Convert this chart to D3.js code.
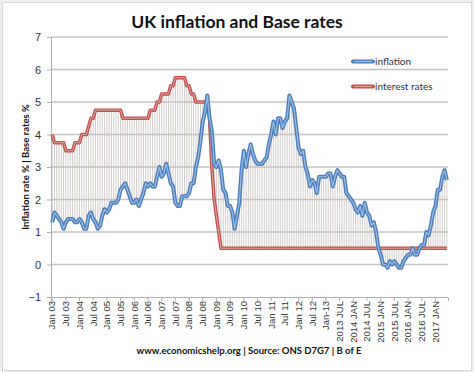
<!DOCTYPE html>
<html>
<head>
<meta charset="utf-8">
<script src="https://cdn.jsdelivr.net/npm/d3@7"></script>
<style>
  body { margin: 0; background: #eeeeee; }
  svg { display: block; font-family: Lato, "Open Sans", sans-serif; }
</style>
</head>
<body>
<div id="chart"></div>
<script>
// monthly data Jan 2003 - Jun 2017
const years = d3.range(2003, 2018);
const monthNames = ['Jan','Feb','Mar','Apr','May','Jun','Jul','Aug','Sep','Oct','Nov','Dec'];

// CPI inflation % (ONS D7G7)
const inflation = [
  1.3, 1.6, 1.5, 1.4, 1.3, 1.1, 1.3, 1.4, 1.4, 1.4, 1.3, 1.3,   // 2003
  1.4, 1.3, 1.1, 1.1, 1.5, 1.6, 1.4, 1.3, 1.1, 1.2, 1.5, 1.7,   // 2004
  1.6, 1.7, 1.9, 1.9, 1.9, 2.0, 2.3, 2.4, 2.5, 2.3, 2.1, 1.9,   // 2005
  1.9, 2.0, 1.8, 2.0, 2.2, 2.5, 2.4, 2.5, 2.4, 2.4, 2.7, 3.0,   // 2006
  2.7, 2.8, 3.1, 2.8, 2.5, 2.4, 1.9, 1.8, 1.8, 2.1, 2.1, 2.1,   // 2007
  2.2, 2.5, 2.5, 3.0, 3.3, 3.8, 4.4, 4.7, 5.2, 4.5, 4.1, 3.1,   // 2008
  3.0, 3.2, 2.9, 2.3, 2.2, 1.8, 1.8, 1.6, 1.1, 1.5, 1.9, 2.9,   // 2009
  3.5, 3.0, 3.4, 3.7, 3.4, 3.2, 3.1, 3.1, 3.1, 3.2, 3.3, 3.7,   // 2010
  4.0, 4.4, 4.0, 4.5, 4.5, 4.2, 4.4, 4.5, 5.2, 5.0, 4.8, 4.2,   // 2011
  3.6, 3.4, 3.5, 3.0, 2.8, 2.4, 2.6, 2.5, 2.2, 2.7, 2.7, 2.7,   // 2012
  2.7, 2.8, 2.8, 2.4, 2.7, 2.9, 2.8, 2.7, 2.7, 2.2, 2.1, 2.0,   // 2013
  1.9, 1.7, 1.6, 1.8, 1.5, 1.9, 1.6, 1.5, 1.2, 1.3, 1.0, 0.5,   // 2014
  0.3, 0.0, 0.0, -0.1, 0.1, 0.0, 0.1, 0.0, -0.1, -0.1, 0.1, 0.2, // 2015
  0.3, 0.3, 0.5, 0.3, 0.3, 0.5, 0.6, 0.6, 1.0, 0.9, 1.2, 1.6,   // 2016
  1.8, 2.3, 2.3, 2.7, 2.9, 2.6                                  // 2017
];

// Bank of England base rate %
const baseRate = [
  4.0, 3.75, 3.75, 3.75, 3.75, 3.75, 3.5, 3.5, 3.5, 3.5, 3.75, 3.75,   // 2003
  3.75, 4.0, 4.0, 4.0, 4.25, 4.5, 4.5, 4.75, 4.75, 4.75, 4.75, 4.75,   // 2004
  4.75, 4.75, 4.75, 4.75, 4.75, 4.75, 4.75, 4.5, 4.5, 4.5, 4.5, 4.5,   // 2005
  4.5, 4.5, 4.5, 4.5, 4.5, 4.5, 4.5, 4.75, 4.75, 4.75, 5.0, 5.0,       // 2006
  5.25, 5.25, 5.25, 5.25, 5.5, 5.5, 5.75, 5.75, 5.75, 5.75, 5.75, 5.5, // 2007
  5.5, 5.25, 5.25, 5.0, 5.0, 5.0, 5.0, 5.0, 5.0, 4.5, 3.0, 2.0,        // 2008
  1.5, 1.0, 0.5, 0.5, 0.5, 0.5, 0.5, 0.5, 0.5, 0.5, 0.5, 0.5,          // 2009
  0.5, 0.5, 0.5, 0.5, 0.5, 0.5, 0.5, 0.5, 0.5, 0.5, 0.5, 0.5,          // 2010
  0.5, 0.5, 0.5, 0.5, 0.5, 0.5, 0.5, 0.5, 0.5, 0.5, 0.5, 0.5,          // 2011
  0.5, 0.5, 0.5, 0.5, 0.5, 0.5, 0.5, 0.5, 0.5, 0.5, 0.5, 0.5,          // 2012
  0.5, 0.5, 0.5, 0.5, 0.5, 0.5, 0.5, 0.5, 0.5, 0.5, 0.5, 0.5,          // 2013
  0.5, 0.5, 0.5, 0.5, 0.5, 0.5, 0.5, 0.5, 0.5, 0.5, 0.5, 0.5,          // 2014
  0.5, 0.5, 0.5, 0.5, 0.5, 0.5, 0.5, 0.5, 0.5, 0.5, 0.5, 0.5,          // 2015
  0.5, 0.5, 0.5, 0.5, 0.5, 0.5, 0.5, 0.5, 0.5, 0.5, 0.5, 0.5,          // 2016
  0.5, 0.5, 0.5, 0.5, 0.5, 0.5                                          // 2017
];

// labelled categories (every 6th month) and their text
const tickLabels = [
  'Jan 03','Jul 03','Jan 04','Jul 04','Jan 05','Jul 05','Jan 06','Jul 06',
  'Jan 07','Jul 07','Jan 08','Jul 08','Jan 09','Jul 09','Jan 10','Jul 10',
  'Jan 11','Jul 11','Jan 12','Jul 12','Jan-13','2013 JUL','2014 JAN','2014 JUL',
  '2015 JAN','2015 JUL','2016 JAN','2016 JUL','2017 JAN'
];
const yTicks = [-1, 0, 1, 2, 3, 4, 5, 6, 7];

const categories = [];
years.forEach(y => monthNames.forEach(m => categories.push(m + ' ' + y)));
categories.length = inflation.length;

const W = 474, H = 372;
const margin = { top: 37, right: 26, bottom: 75, left: 51 };
const width = W - margin.left - margin.right;
const height = H - margin.top - margin.bottom;

const svg = d3.select('#chart').append('svg')
  .attr('width', W)
  .attr('height', H);

// chart frame
svg.append('rect')
  .attr('x', 2.5).attr('y', 2.5)
  .attr('width', W - 5).attr('height', H - 4)
  .attr('fill', '#fff')
  .attr('stroke', '#d9d9d9');

const g = svg.append('g')
  .attr('transform', `translate(${margin.left},${margin.top})`);

const x = d3.scaleBand()
  .domain(categories)
  .range([0, width]);

const y = d3.scaleLinear()
  .domain([-1, 7])
  .range([height, 0]);

const cx = (d, i) => x(categories[i]) + x.bandwidth() / 2;

// gridlines
g.append('g')
  .selectAll('line')
  .data(yTicks.filter(t => t > -1))
  .enter().append('line')
  .attr('x1', 0).attr('x2', width)
  .attr('y1', d => y(d)).attr('y2', d => y(d))
  .attr('stroke', '#c4c4c4')
  .attr('stroke-width', 1.5);

// y axis
const yAxis = g.append('g')
  .call(d3.axisLeft(y).tickValues(yTicks).tickSize(4).tickPadding(6));
yAxis.select('.domain').attr('stroke', '#b0b0b0');
yAxis.selectAll('.tick line').attr('stroke', '#b0b0b0');
yAxis.selectAll('text')
  .attr('fill', '#333')
  .style('font-size', '11px');

// x axis
const labelled = tickLabels.map((t, k) => categories[k * 6]);
const xAxis = g.append('g')
  .attr('transform', `translate(0,${height})`)
  .call(d3.axisBottom(x).tickValues(labelled)
    .tickFormat((d, k) => tickLabels[k]).tickSize(4).tickPadding(2));
xAxis.select('.domain').attr('stroke', '#b0b0b0');
xAxis.selectAll('.tick line').attr('stroke', '#b0b0b0');
xAxis.selectAll('text')
  .attr('fill', '#333')
  .style('font-size', '9.5px')
  .attr('text-anchor', 'end')
  .attr('transform', 'rotate(-90)')
  .attr('x', -4)
  .attr('y', 0)
  .attr('dy', '0.35em');

// high-low lines between the two series
g.append('g')
  .selectAll('line')
  .data(inflation)
  .enter().append('line')
  .attr('x1', cx).attr('x2', cx)
  .attr('y1', d => y(d))
  .attr('y2', (d, i) => y(baseRate[i]))
  .attr('stroke', '#c6bfbf')
  .attr('stroke-width', 0.8);

const line = d3.line()
  .x(cx)
  .y(d => y(d));

// interest rates
g.append('path').datum(baseRate)
  .attr('d', line).attr('fill', 'none')
  .attr('stroke', '#c0504d').attr('stroke-width', 3.5)
  .attr('stroke-linejoin', 'round');
g.append('path').datum(baseRate)
  .attr('d', line).attr('fill', 'none')
  .attr('stroke', '#e3a3a1').attr('stroke-width', 1)
  .attr('stroke-linejoin', 'round');

// inflation
g.append('path').datum(inflation)
  .attr('d', line).attr('fill', 'none')
  .attr('stroke', '#4a7ebb').attr('stroke-width', 4)
  .attr('stroke-linejoin', 'round');
g.append('path').datum(inflation)
  .attr('d', line).attr('fill', 'none')
  .attr('stroke', '#9dbde3').attr('stroke-width', 1.2)
  .attr('stroke-linejoin', 'round');

// legend
const legend = [
  { name: 'inflation', color: '#4a7ebb', inner: '#9dbde3', y: 61.5 },
  { name: 'interest rates', color: '#c0504d', inner: '#e3a3a1', y: 86.5 }
];
const lg = svg.append('g');
legend.forEach(l => {
  lg.append('line').attr('x1', 353).attr('x2', 373)
    .attr('y1', l.y).attr('y2', l.y)
    .attr('stroke', l.color).attr('stroke-width', 4).attr('stroke-linecap', 'round');
  lg.append('line').attr('x1', 354).attr('x2', 372)
    .attr('y1', l.y).attr('y2', l.y)
    .attr('stroke', l.inner).attr('stroke-width', 1.2);
  lg.append('text').attr('x', 375).attr('y', l.y + 3.5)
    .attr('fill', '#333').style('font-size', '10px')
    .text(l.name);
});

// title
svg.append('text')
  .attr('x', 237).attr('y', 28)
  .attr('text-anchor', 'middle')
  .style('font-size', '17.5px').style('font-weight', 'bold')
  .attr('fill', '#111')
  .text('UK inflation and Base rates');

// y axis title
svg.append('text')
  .attr('transform', `translate(29,${margin.top + height / 2}) rotate(-90)`)
  .attr('text-anchor', 'middle')
  .style('font-size', '9.5px').style('font-weight', 'bold')
  .attr('fill', '#111')
  .text('Inflation rate % | Base rates %');

// source
svg.append('text')
  .attr('x', 249).attr('y', 354)
  .attr('text-anchor', 'middle')
  .style('font-size', '9.5px').style('font-weight', 'bold')
  .attr('fill', '#111')
  .text('www.economicshelp.org | Source: ONS D7G7 | B of E');
</script>
</body>
</html>
